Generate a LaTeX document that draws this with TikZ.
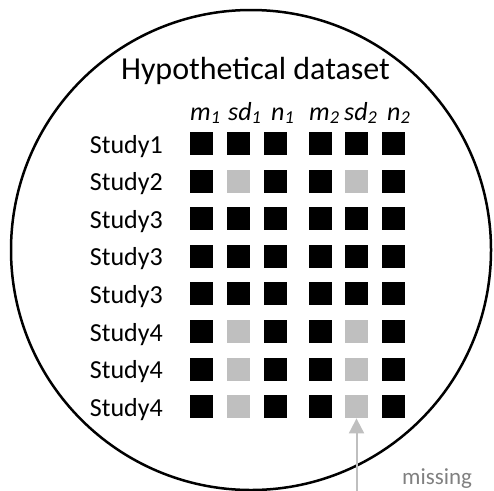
\documentclass[tikz,border=0pt]{standalone}
\usepackage{fontspec}
\setmainfont{Carlito}
\usetikzlibrary{arrows.meta}
\definecolor{miss}{gray}{0.75}
\definecolor{misstext}{gray}{0.5}
\begin{document}
\begin{tikzpicture}[x=1pt,y=-1pt,>=Stealth]
\tikzstyle{sq}=[minimum size=23pt,inner sep=0pt,fill=black]
\tikzstyle{lab}=[anchor=base east,inner sep=0pt,font=\fontsize{26}{26}\selectfont]
\tikzstyle{hd}=[anchor=base west,inner sep=0pt,font=\fontsize{26}{26}\selectfont\itshape]
\useasboundingbox (0,0) rectangle (494,490);
\draw[line width=2.5pt] (251,250) circle (240pt);
\node[anchor=base,inner sep=0pt,font=\fontsize{32}{32}\selectfont] (title) at (255.5,79) {Hypothetical dataset};
\node[hd] (hm1) at (190,120) {m\textsubscript{1}}; \node[hd] (hsd1) at (228,120) {sd\textsubscript{1}}; \node[hd] (hn1) at (271,120) {n\textsubscript{1}};
\node[hd] (hm2) at (309,120) {m\textsubscript{2}}; \node[hd] (hsd2) at (344,120) {sd\textsubscript{2}}; \node[hd] (hn2) at (387,120) {n\textsubscript{2}};
% rows: grey squares in the sd columns where the value is missing
\foreach \r/\name/\g in {1/Study1/black,2/Study2/miss,3/Study3/black,4/Study3/black,5/Study3/black,6/Study4/miss,7/Study4/miss,8/Study4/miss} {
  \node[lab] (l\r) at (163,{115.4+37.6*\r}) {\name};
  \foreach \c/\x/\k in {1/201.5/black,2/238.5/\g,3/275.5/black,4/320.5/black,5/356.5/\g,6/393.5/black}
    \node[sq,fill=\k] (s\r\c) at (\x,{105.9+37.6*\r}) {};
}
\coordinate (tail) at (356.5,496);
\draw[miss,line width=2pt,-{Triangle[length=15pt,width=15pt]}] (tail) -- (s85);
\node[anchor=base west,inner sep=0pt,text=misstext,font=\fontsize{23}{23}\selectfont] (misslab) at (402,484) {missing};
\end{tikzpicture}
\end{document}
